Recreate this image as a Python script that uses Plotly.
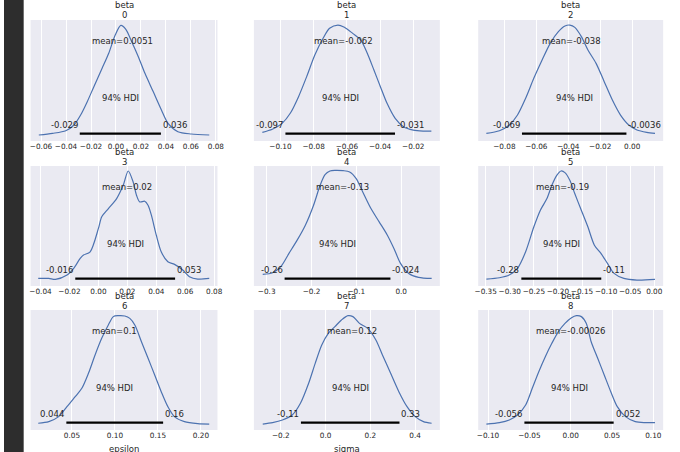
import plotly.graph_objects as go
from plotly.subplots import make_subplots

# posterior density curves
# x in parameter units, y scaled so that the peak is about 1
x0 = [-0.0618, -0.0508, -0.0402, -0.0336, -0.0283, -0.023, -0.0177, -0.0111, -0.0058, -0.0006, 0.0039,
      0.0079, 0.0126, 0.0179, 0.0232, 0.0298, 0.0364, 0.0417, 0.0496, 0.0602, 0.0747]
y0 = [0.0, 0.015, 0.039, 0.091, 0.182, 0.304, 0.441, 0.609, 0.746, 0.913, 1.001,
      0.965, 0.852, 0.715, 0.563, 0.396, 0.228, 0.106, 0.030, 0.009, 0.0]

x1 = [-0.1109, -0.1049, -0.099, -0.0941, -0.0891, -0.0842, -0.0793, -0.0743, -0.0704, -0.0654, -0.0615,
      -0.0565, -0.0516, -0.0477, -0.0437, -0.0398, -0.0358, -0.0309, -0.0259, -0.02, -0.0141, -0.0091]
y1 = [0.024, 0.052, 0.106, 0.198, 0.350, 0.533, 0.730, 0.883, 0.974, 1.004, 0.983,
      0.928, 0.867, 0.746, 0.593, 0.441, 0.289, 0.152, 0.076, 0.045, 0.036, 0.036]

x2 = [-0.0913, -0.0831, -0.0769, -0.0718, -0.0667, -0.0616, -0.0564, -0.0513, -0.0462, -0.0421, -0.039,
      -0.0359, -0.0318, -0.0277, -0.0226, -0.0175, -0.0124, -0.0073, -0.0021, 0.003, 0.0091, 0.0143]
y2 = [0.015, 0.039, 0.091, 0.182, 0.335, 0.517, 0.685, 0.837, 0.943, 0.995, 1.004,
      0.983, 0.898, 0.776, 0.654, 0.487, 0.319, 0.182, 0.091, 0.045, 0.024, 0.015]

x3 = [-0.0416, -0.0343, -0.0297, -0.0217, -0.0171, -0.0126, -0.0103, -0.0057, 0.0, 0.0023, 0.0069, 0.0126,
      0.0171, 0.0206, 0.024, 0.0263, 0.0286, 0.032, 0.0343, 0.0366, 0.04, 0.0434, 0.048, 0.0526,
      0.0583, 0.0629, 0.0686, 0.0766]
y3 = [0.015, 0.015, 0.006, 0.046, 0.107, 0.199, 0.230, 0.260, 0.475, 0.582, 0.658, 0.750,
      0.872, 1.004, 0.903, 0.781, 0.719, 0.726, 0.689, 0.597, 0.413, 0.260, 0.168, 0.144,
      0.092, 0.031, 0.009, 0.015]

x4 = [-0.3088, -0.2868, -0.2685, -0.2503, -0.232, -0.2137, -0.1954, -0.1808, -0.1698, -0.1588, -0.1478,
      -0.1296, -0.1149, -0.1003, -0.0857, -0.0674, -0.0491, -0.0308, -0.0162, -0.0015, 0.0168, 0.0387, 0.068]
y4 = [0.052, 0.067, 0.123, 0.245, 0.367, 0.505, 0.689, 0.872, 0.970, 1.004, 1.010,
      1.007, 0.995, 0.934, 0.811, 0.658, 0.536, 0.413, 0.291, 0.153, 0.061, 0.025, 0.015]

x5 = [-0.3486, -0.3214, -0.3011, -0.2841, -0.2671, -0.25, -0.2365, -0.2229, -0.2127, -0.2025, -0.1936,
      -0.1855, -0.1753, -0.1651, -0.1515, -0.1379, -0.1243, -0.1107, -0.0971, -0.0835, -0.0631, -0.0359, 0.0015]
y5 = [0.009, 0.021, 0.046, 0.107, 0.260, 0.490, 0.643, 0.750, 0.872, 0.964, 1.004,
      0.989, 0.918, 0.796, 0.643, 0.490, 0.321, 0.245, 0.153, 0.061, 0.015, 0.0, 0.006]

x6 = [0.0108, 0.0231, 0.0346, 0.0442, 0.0538, 0.0615, 0.0692, 0.0769, 0.0846, 0.0923, 0.0981, 0.1038,
      0.1115, 0.1173, 0.1231, 0.1308, 0.1385, 0.1462, 0.1538, 0.1615, 0.1692, 0.1808, 0.1962, 0.2096]
y6 = [0.007, 0.022, 0.068, 0.160, 0.252, 0.329, 0.467, 0.636, 0.789, 0.912, 0.989, 0.998,
      0.995, 0.973, 0.912, 0.758, 0.605, 0.452, 0.298, 0.160, 0.068, 0.022, 0.004, 0.0]

x7 = [-0.2805, -0.2366, -0.1927, -0.1488, -0.1122, -0.0756, -0.0463, -0.017, 0.0123, 0.0416, 0.0709,
      0.1001, 0.1221, 0.1514, 0.188, 0.2246, 0.2539, 0.2905, 0.3271, 0.3637, 0.4003, 0.4369, 0.4735]
y7 = [0.0, 0.013, 0.037, 0.083, 0.191, 0.375, 0.559, 0.728, 0.835, 0.897, 0.958,
      0.998, 0.989, 0.927, 0.881, 0.774, 0.636, 0.467, 0.298, 0.160, 0.068, 0.022, 0.007]

x8 = [-0.102, -0.0861, -0.0743, -0.0644, -0.0545, -0.0465, -0.0386, -0.0307, -0.0228, -0.0149, -0.0069, 0.001,
      0.0069, 0.0129, 0.0188, 0.0248, 0.0327, 0.0406, 0.0485, 0.0564, 0.0663, 0.0782, 0.0901, 0.102]
y8 = [0.0, 0.013, 0.037, 0.083, 0.175, 0.329, 0.482, 0.620, 0.743, 0.851, 0.927, 0.979,
      0.998, 0.989, 0.927, 0.758, 0.605, 0.452, 0.298, 0.160, 0.068, 0.022, 0.013, 0.013]

curves_x = [x0, x1, x2, x3, x4, x5, x6, x7, x8]
curves_y = [y0, y1, y2, y3, y4, y5, y6, y7, y8]

names = ["0", "1", "2", "3", "4", "5", "6", "7", "8"]
mean_vals = [0.0051, -0.062, -0.038, 0.02, -0.13, -0.19, 0.1, 0.12, -0.00026]
mean_txt = ["0.0051", "-0.062", "-0.038", "0.02", "-0.13", "-0.19", "0.1", "0.12", "-0.00026"]
hdi_lo = [-0.029, -0.097, -0.069, -0.016, -0.26, -0.276, 0.0435, -0.11, -0.056]
hdi_hi = [0.036, -0.031, -0.0036, 0.053, -0.024, -0.11, 0.156, 0.33, 0.052]
hdi_lo_txt = ["-0.029", "-0.097", "-0.069", "-0.016", "-0.26", "-0.28", "0.044", "-0.11", "-0.056"]
hdi_hi_txt = ["0.036", "-0.031", "-0.0036", "0.053", "-0.024", "-0.11", "0.16", "0.33", "0.052"]

ticks = [
    [-0.06, -0.04, -0.02, 0.0, 0.02, 0.04, 0.06, 0.08],
    [-0.10, -0.08, -0.06, -0.04, -0.02],
    [-0.08, -0.06, -0.04, -0.02, 0.0, 0.02],
    [-0.04, -0.02, 0.0, 0.02, 0.04, 0.06, 0.08],
    [-0.3, -0.2, -0.1, 0.0],
    [-0.35, -0.30, -0.25, -0.20, -0.15, -0.10, -0.05, 0.0],
    [0.05, 0.10, 0.15, 0.20],
    [-0.2, 0.0, 0.2, 0.4],
    [-0.10, -0.05, 0.0, 0.05, 0.10],
]
tick_fmt = [".2f", ".2f", ".2f", ".2f", ".1f", ".2f", ".2f", ".1f", ".2f"]
x_labels = ["", "", "", "", "", "", "epsilon", "sigma", ""]

# layout (pixel-derived)
W, H = 680, 452
col_px = [(27, 217), (254, 443), (482, 670)]
row_px = [(20, 141), (166, 286), (310, 430)]
x_ranges = [
    [-0.0684, 0.0813], [-0.116, -0.004], [-0.0964, 0.0194],
    [-0.0469, 0.0823], [-0.3285, 0.0862], [-0.3656, 0.0185],
    [0.0019, 0.2192], [-0.32, 0.5101], [-0.1119, 0.1119],
]
Y_RANGE = [-0.055, 1.05]

FONT = "DejaVu Sans"
TXT = "#262626"
LINE = "#4c72b0"

fig = make_subplots(rows=3, cols=3)
annotations = []

for i in range(9):
    r, c = i // 3, i % 3
    ax = "" if i == 0 else str(i + 1)
    fig.add_trace(go.Scatter(x=curves_x[i], y=curves_y[i], mode="lines",
                             line=dict(color=LINE, width=1.2, shape="spline", smoothing=0.8),
                             hoverinfo="skip", showlegend=False), row=r + 1, col=c + 1)
    fig.add_trace(go.Scatter(x=[hdi_lo[i], hdi_hi[i]], y=[0.012, 0.012], mode="lines",
                             line=dict(color="black", width=2.2),
                             hoverinfo="skip", showlegend=False), row=r + 1, col=c + 1)

    x0p, x1p = col_px[c]
    y0p, y1p = row_px[r]
    fig.layout["xaxis" + ax].update(
        domain=[x0p / W, x1p / W], range=x_ranges[i], tickvals=ticks[i], tickformat=tick_fmt[i],
        showgrid=True, gridcolor="white", gridwidth=1, zeroline=False, showline=False,
        ticks="", tickangle=0, tickfont=dict(family=FONT, size=7.3, color=TXT),
    )
    fig.layout["yaxis" + ax].update(
        domain=[1 - y1p / H, 1 - y0p / H], range=Y_RANGE, showticklabels=False,
        showgrid=False, zeroline=False, showline=False, ticks="",
    )

    xr, yr = "x" + ax, "y" + ax
    fnt = dict(family=FONT, size=8.5, color=TXT)
    mid = dict(showarrow=False, font=fnt, yanchor="middle")
    annotations += [
        dict(x=mean_vals[i], y=0.86, xref=xr, yref=yr, text="mean=" + mean_txt[i], **mid),
        dict(x=(hdi_lo[i] + hdi_hi[i]) / 2, y=0.335, xref=xr, yref=yr, text="94% HDI", **mid),
        dict(x=hdi_lo[i], y=0.095, xref=xr, yref=yr, text=hdi_lo_txt[i], xanchor="right", **mid),
        dict(x=hdi_hi[i], y=0.095, xref=xr, yref=yr, text=hdi_hi_txt[i], xanchor="left", **mid),
        dict(x=0.5, y=1, xref=xr + " domain", yref=yr + " domain", text="beta", yshift=14.5, **mid),
        dict(x=0.5, y=1, xref=xr + " domain", yref=yr + " domain", text=names[i], yshift=4.5, **mid),
    ]
    if x_labels[i]:
        annotations.append(dict(x=0.5, y=0, xref=xr + " domain", yref=yr + " domain",
                                text=x_labels[i], yshift=-19, **mid))

fig.update_layout(
    width=W, height=H, margin=dict(l=0, r=0, t=0, b=0),
    paper_bgcolor="white", plot_bgcolor="#eaeaf2",
    annotations=annotations,
    shapes=[dict(type="rect", xref="paper", yref="paper", x0=0, x1=20 / W, y0=0, y1=1,
                 fillcolor="#2d2d2d", line=dict(width=0), layer="below")],
)

# page has a default body margin; drop it so the figure sits at the window corner
fig.write_html("out.html", config={"displayModeBar": False},
               post_script="document.body.style.margin='0';document.body.style.overflow='hidden';")
